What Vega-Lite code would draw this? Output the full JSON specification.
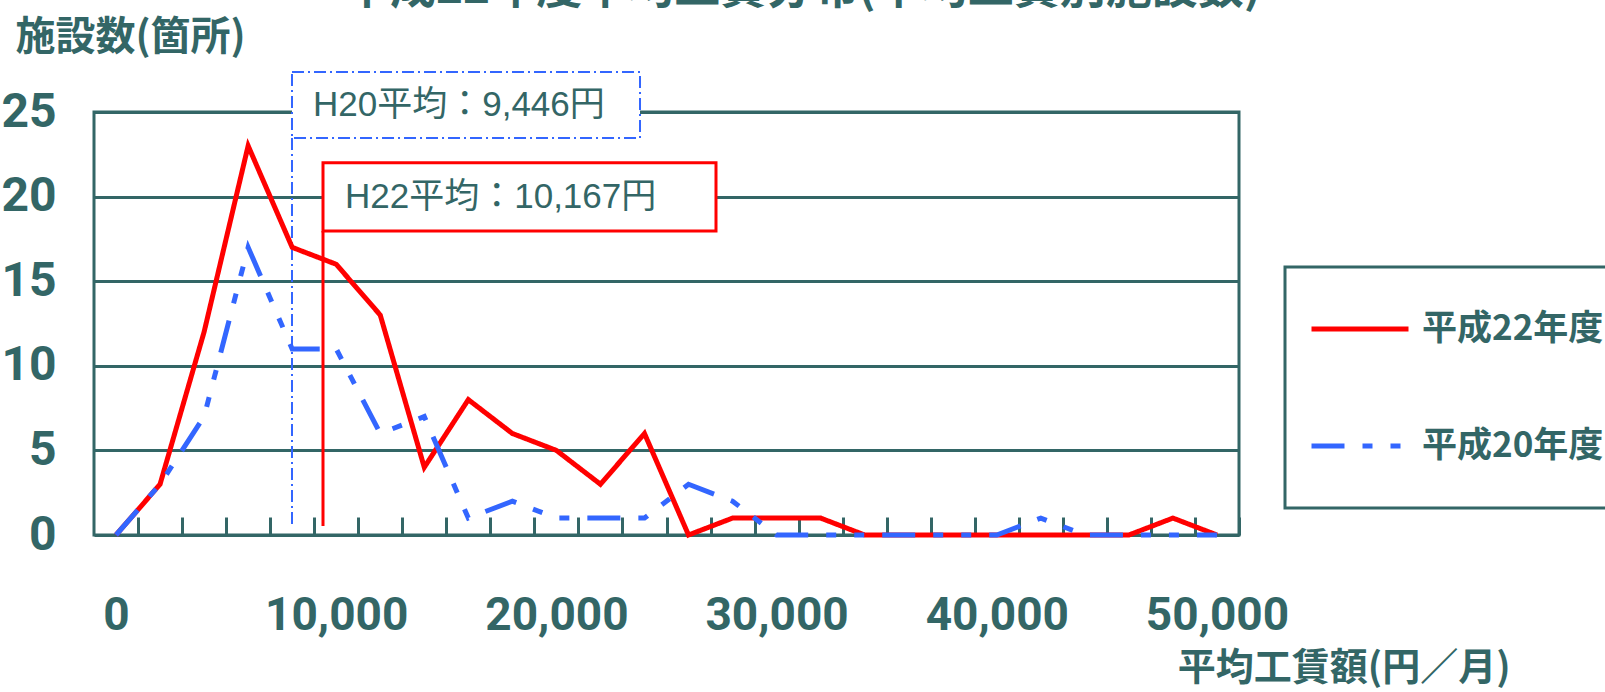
{
  "$schema": "https://vega.github.io/schema/vega-lite/v6.json",
  "width": 1145,
  "height": 423,
  "autosize": {"type": "none"},
  "padding": {"left": 94, "top": 112, "right": 366, "bottom": 157},
  "background": "white",
  "title": {
    "text": "平成22年度平均工賃分布(平均工賃別施設数)",
    "font": "Noto Sans CJK JP",
    "fontSize": 46,
    "fontWeight": "bold",
    "color": "#336666",
    "anchor": "middle",
    "frame": "group",
    "dx": 136,
    "baseline": "bottom",
    "offset": -42
  },
  "datasets": {
    "series": [
      {"wage": 0, "count": 0, "year": "平成22年度"},
      {"wage": 2000, "count": 3, "year": "平成22年度"},
      {"wage": 4000, "count": 12, "year": "平成22年度"},
      {"wage": 6000, "count": 23, "year": "平成22年度"},
      {"wage": 8000, "count": 17, "year": "平成22年度"},
      {"wage": 10000, "count": 16, "year": "平成22年度"},
      {"wage": 12000, "count": 13, "year": "平成22年度"},
      {"wage": 14000, "count": 4, "year": "平成22年度"},
      {"wage": 16000, "count": 8, "year": "平成22年度"},
      {"wage": 18000, "count": 6, "year": "平成22年度"},
      {"wage": 20000, "count": 5, "year": "平成22年度"},
      {"wage": 22000, "count": 3, "year": "平成22年度"},
      {"wage": 24000, "count": 6, "year": "平成22年度"},
      {"wage": 26000, "count": 0, "year": "平成22年度"},
      {"wage": 28000, "count": 1, "year": "平成22年度"},
      {"wage": 30000, "count": 1, "year": "平成22年度"},
      {"wage": 32000, "count": 1, "year": "平成22年度"},
      {"wage": 34000, "count": 0, "year": "平成22年度"},
      {"wage": 36000, "count": 0, "year": "平成22年度"},
      {"wage": 38000, "count": 0, "year": "平成22年度"},
      {"wage": 40000, "count": 0, "year": "平成22年度"},
      {"wage": 42000, "count": 0, "year": "平成22年度"},
      {"wage": 44000, "count": 0, "year": "平成22年度"},
      {"wage": 46000, "count": 0, "year": "平成22年度"},
      {"wage": 48000, "count": 1, "year": "平成22年度"},
      {"wage": 50000, "count": 0, "year": "平成22年度"},
      {"wage": 0, "count": 0, "year": "平成20年度"},
      {"wage": 2000, "count": 3, "year": "平成20年度"},
      {"wage": 4000, "count": 7, "year": "平成20年度"},
      {"wage": 6000, "count": 17, "year": "平成20年度"},
      {"wage": 8000, "count": 11, "year": "平成20年度"},
      {"wage": 10000, "count": 11, "year": "平成20年度"},
      {"wage": 12000, "count": 6, "year": "平成20年度"},
      {"wage": 14000, "count": 7, "year": "平成20年度"},
      {"wage": 16000, "count": 1, "year": "平成20年度"},
      {"wage": 18000, "count": 2, "year": "平成20年度"},
      {"wage": 20000, "count": 1, "year": "平成20年度"},
      {"wage": 22000, "count": 1, "year": "平成20年度"},
      {"wage": 24000, "count": 1, "year": "平成20年度"},
      {"wage": 26000, "count": 3, "year": "平成20年度"},
      {"wage": 28000, "count": 2, "year": "平成20年度"},
      {"wage": 30000, "count": 0, "year": "平成20年度"},
      {"wage": 32000, "count": 0, "year": "平成20年度"},
      {"wage": 34000, "count": 0, "year": "平成20年度"},
      {"wage": 36000, "count": 0, "year": "平成20年度"},
      {"wage": 38000, "count": 0, "year": "平成20年度"},
      {"wage": 40000, "count": 0, "year": "平成20年度"},
      {"wage": 42000, "count": 1, "year": "平成20年度"},
      {"wage": 44000, "count": 0, "year": "平成20年度"},
      {"wage": 46000, "count": 0, "year": "平成20年度"},
      {"wage": 48000, "count": 0, "year": "平成20年度"},
      {"wage": 50000, "count": 0, "year": "平成20年度"}
    ],
    "h20": [{"x": 7992, "x2": 23797, "y": 23.46, "y2": 27.36, "ty": 25.4, "tx": 8946, "yl": 0.47, "label": "H20平均：9,446円"}],
    "h22": [{"x": 9400, "x2": 27248, "y": 17.97, "y2": 22.0, "ty": 20.0, "tx": 10399, "yl": 0.53, "label": "H22平均：10,167円"}]
  },
  "layer": [
    {
      "data": {"name": "h20"},
      "mark": {"type": "rect", "fill": "white", "stroke": "#3366ff", "strokeWidth": 2, "strokeDash": [12, 4, 2, 4]},
      "encoding": {
        "x": {"field": "x", "type": "quantitative", "scale": {"domain": [-1000, 51000], "nice": false, "zero": false},
          "axis": {
            "values": [1000, 3000, 5000, 7000, 9000, 11000, 13000, 15000, 17000, 19000, 21000, 23000, 25000, 27000, 29000, 31000, 33000, 35000, 37000, 39000, 41000, 43000, 45000, 47000, 49000, 51000],
            "title": "平均工賃額(円／月)",
            "titleFont": "Noto Sans CJK JP", "titleFontSize": 38, "titleFontWeight": "bold", "titleColor": "#336666",
            "titleAlign": "right", "titleAnchor": "start", "titleBaseline": "alphabetic", "titleX": 1416, "titleY": 144,
            "domain": false, "grid": false,
            "ticks": true, "tickSize": -18, "tickWidth": 3, "tickColor": "#336666",
            "labelExpr": "datum.value % 10000 == 1000 ? format(datum.value - 1000, ',') : ''",
            "labelOffset": -22,
            "labelFont": "Roboto", "labelFontSize": 46, "labelFontWeight": "bold", "labelColor": "#336666",
            "labelPadding": 76, "labelOverlap": false, "labelBound": false, "labelFlush": false
          }},
        "x2": {"field": "x2"},
        "y": {"field": "y", "type": "quantitative", "scale": {"domain": [0, 25], "nice": false},
          "axis": {
            "values": [0, 5, 10, 15, 20, 25],
            "title": "施設数(箇所)",
            "titleFont": "Noto Sans CJK JP", "titleFontSize": 40, "titleFontWeight": "bold", "titleColor": "#336666",
            "titleAngle": 0, "titleAlign": "left", "titleAnchor": "start", "titleBaseline": "alphabetic", "titleX": -79, "titleY": -63,
            "domain": false, "ticks": false,
            "grid": true, "gridColor": "#336666", "gridWidth": 3, "gridOpacity": 1,
            "labelFont": "Roboto", "labelFontSize": 48, "labelFontWeight": "bold", "labelColor": "#336666",
            "labelPadding": 38, "labelBaseline": "middle"
          }},
        "y2": {"field": "y2"}
      }
    },
    {
      "data": {"name": "h20"},
      "mark": {"type": "rule", "stroke": "#3366ff", "strokeWidth": 2, "strokeDash": [12, 4, 2, 4]},
      "encoding": {
        "x": {"field": "x", "type": "quantitative"},
        "y": {"field": "y", "type": "quantitative"},
        "y2": {"field": "yl"}
      }
    },
    {
      "data": {"name": "h22"},
      "mark": {"type": "rect", "fill": "white", "stroke": "#ff0000", "strokeWidth": 3},
      "encoding": {
        "x": {"field": "x", "type": "quantitative"},
        "x2": {"field": "x2"},
        "y": {"field": "y", "type": "quantitative"},
        "y2": {"field": "y2"}
      }
    },
    {
      "data": {"name": "h22"},
      "mark": {"type": "rule", "stroke": "#ff0000", "strokeWidth": 3},
      "encoding": {
        "x": {"field": "x", "type": "quantitative"},
        "y": {"field": "y", "type": "quantitative"},
        "y2": {"field": "yl"}
      }
    },
    {
      "data": {"name": "series"},
      "mark": {"type": "line", "strokeWidth": 5, "strokeCap": "butt"},
      "encoding": {
        "x": {"field": "wage", "type": "quantitative"},
        "y": {"field": "count", "type": "quantitative"},
        "color": {"field": "year", "type": "nominal", "sort": null,
          "scale": {"domain": ["平成22年度", "平成20年度"], "range": ["#ff0000", "#3366ff"]},
          "legend": {"title": null}},
        "strokeDash": {"field": "year", "type": "nominal", "sort": null,
          "scale": {"domain": ["平成22年度", "平成20年度"], "range": [[1, 0], [33, 18, 10, 18, 10, 18]]},
          "legend": {"title": null}}
      }
    },
    {
      "data": {"name": "h20"},
      "mark": {"type": "text", "align": "left", "baseline": "middle", "font": "Liberation Sans, Noto Sans CJK JP", "fontSize": 35, "color": "#336666"},
      "encoding": {
        "x": {"field": "tx", "type": "quantitative"},
        "y": {"field": "ty", "type": "quantitative"},
        "text": {"field": "label"}
      }
    },
    {
      "data": {"name": "h22"},
      "mark": {"type": "text", "align": "left", "baseline": "middle", "font": "Liberation Sans, Noto Sans CJK JP", "fontSize": 35, "color": "#336666"},
      "encoding": {
        "x": {"field": "tx", "type": "quantitative"},
        "y": {"field": "ty", "type": "quantitative"},
        "text": {"field": "label"}
      }
    }
  ],
  "config": {
    "view": {"stroke": "#336666", "strokeWidth": 3},
    "legend": {
      "orient": "none", "legendX": 1191, "legendY": 155,
      "symbolType": "stroke", "symbolSize": 9409, "symbolStrokeWidth": 5,
      "labelFont": "Noto Sans CJK JP", "labelFontSize": 35, "labelFontWeight": "bold", "labelColor": "#336666",
      "labelOffset": 11, "labelLimit": 500, "clipHeight": 76, "rowPadding": 41,
      "strokeColor": "#336666", "strokeWidth": 3, "fillColor": "white", "padding": 24
    }
  }
}
